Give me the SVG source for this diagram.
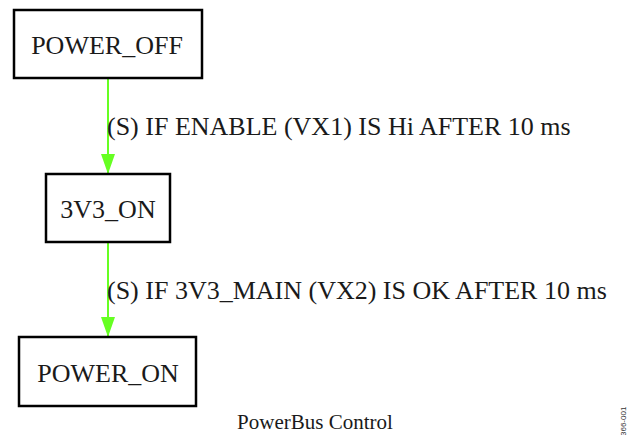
<svg xmlns="http://www.w3.org/2000/svg" width="628" height="435" viewBox="0 0 628 435">
<style>
.box{fill:#fff;stroke:#000;stroke-width:2.5}
.t{font-family:"Liberation Serif","Times New Roman",serif;fill:#1a1a1a}
.n{font-size:26px;text-anchor:middle}
.l{font-size:26px}
.e{stroke:#66ff22;stroke-width:2;fill:none}
</style>
<defs>
<marker id="ah" markerUnits="userSpaceOnUse" markerWidth="20" markerHeight="14" refX="20" refY="7" orient="auto">
<path d="M0,0 L20,7 L0,14 Z" fill="#66ff22"/>
</marker>
</defs>
<rect width="628" height="435" fill="#fff"/>
<g id="connectors">
<line class="e" x1="108" y1="79" x2="108" y2="174" marker-end="url(#ah)"/>
<line class="e" x1="108" y1="243" x2="108" y2="337" marker-end="url(#ah)"/>
<text class="t l" x="107" y="135">(S) IF ENABLE (VX1) IS Hi AFTER 10 ms</text>
<text class="t l" x="107" y="299">(S) IF 3V3_MAIN (VX2) IS OK AFTER 10 ms</text>
</g>
<g id="power_off">
<rect class="box" x="14" y="10" width="188" height="68"/>
<text class="t n" x="107" y="54">POWER_OFF</text>
</g>
<g id="v3v3_on">
<rect class="box" x="46" y="174" width="124" height="68"/>
<text class="t n" x="108" y="218">3V3_ON</text>
</g>
<g id="power_on">
<rect class="box" x="19" y="337" width="177" height="69"/>
<text class="t n" x="108" y="382">POWER_ON</text>
</g>
<text class="t" x="315" y="429" font-size="21" text-anchor="middle">PowerBus Control</text>
<text x="0" y="0" font-family="Liberation Sans,Arial,sans-serif" font-size="8" fill="#333" transform="translate(626,436) rotate(-90)">366-001</text>
</svg>
